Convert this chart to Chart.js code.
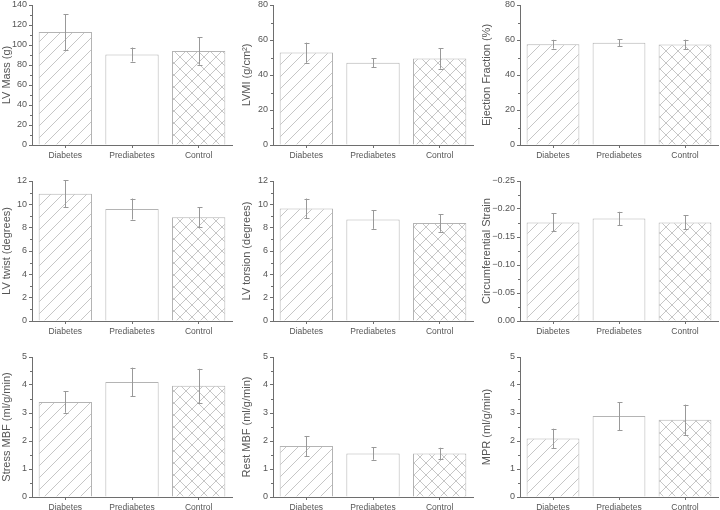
<!DOCTYPE html>
<html>
<head>
<meta charset="utf-8">
<script src="https://cdn.jsdelivr.net/npm/chart.js@4.4.1/dist/chart.umd.min.js"></script>
<style>
  html, body { margin: 0; padding: 0; background: #fff; width: 720px; height: 510px; overflow: hidden; position: relative; }
  canvas { position: absolute; }
</style>
</head>
<body>
<canvas id="c1" width="240" height="170"></canvas>
<canvas id="c2" width="240" height="170"></canvas>
<canvas id="c3" width="240" height="170"></canvas>
<canvas id="c4" width="240" height="170"></canvas>
<canvas id="c5" width="240" height="170"></canvas>
<canvas id="c6" width="240" height="170"></canvas>
<canvas id="c7" width="240" height="170"></canvas>
<canvas id="c8" width="240" height="170"></canvas>
<canvas id="c9" width="240" height="170"></canvas>
<script>
// data: group means and error half-widths
const categories = ['Diabetes', 'Prediabetes', 'Control'];

const lvMass = [113, 90.5, 94];
const lvMassErr = [18, 7, 13.5];
const lvmi = [52.8, 47, 49.4];
const lvmiErr = [5.7, 2.6, 5.8];
const ejectionFraction = [57.6, 58.4, 57.5];
const ejectionFractionErr = [2.5, 1.9, 2.7];

const lvTwist = [10.9, 9.6, 8.9];
const lvTwistErr = [1.15, 0.9, 0.85];
const lvTorsion = [9.65, 8.7, 8.4];
const lvTorsionErr = [0.85, 0.8, 0.75];
const circStrain = [-0.176, -0.183, -0.176];
const circStrainErr = [0.016, 0.012, 0.0125];

const stressMbf = [3.39, 4.11, 3.97];
const stressMbfErr = [0.38, 0.51, 0.61];
const restMbf = [1.82, 1.55, 1.55];
const restMbfErr = [0.36, 0.22, 0.21];
const mpr = [2.09, 2.89, 2.76];
const mprErr = [0.35, 0.5, 0.54];

const FONT = '"Liberation Sans", Arial, sans-serif';
const AXIS = '#6e6e6e';
const TEXT = '#555';
const HATCH = '#c6c6c6';

function makePattern(kind) {
  const size = 12;
  const c = document.createElement('canvas');
  c.width = size; c.height = size;
  const ctx = c.getContext('2d');
  ctx.fillStyle = '#fff';
  ctx.fillRect(0, 0, size, size);
  ctx.strokeStyle = HATCH;
  ctx.lineWidth = 1;
  ctx.beginPath();
  if (kind === 'diag' || kind === 'cross') {
    ctx.moveTo(-1, size + 1); ctx.lineTo(size + 1, -1);
    ctx.moveTo(-1, 1); ctx.lineTo(1, -1);
    ctx.moveTo(size - 1, size + 1); ctx.lineTo(size + 1, size - 1);
  }
  if (kind === 'cross') {
    ctx.moveTo(-1, -1); ctx.lineTo(size + 1, size + 1);
    ctx.moveTo(size - 1, -1); ctx.lineTo(size + 1, 1);
    ctx.moveTo(-1, size - 1); ctx.lineTo(1, size + 1);
  }
  ctx.stroke();
  return document.createElement('canvas').getContext('2d').createPattern(c, 'repeat');
}

const errBarPlugin = {
  id: 'errbars',
  afterDatasetsDraw(chart, args, opts) {
    const errs = opts.errs;
    if (!errs) return;
    const ctx = chart.ctx;
    const y = chart.scales.y;
    const meta = chart.getDatasetMeta(0);
    const vals = chart.data.datasets[0].data;
    ctx.save();
    ctx.strokeStyle = '#999';
    ctx.lineWidth = 1;
    meta.data.forEach((bar, i) => {
      const x = Math.round(bar.x) + 0.5;
      const top = y.getPixelForValue(vals[i] + (vals[i] < 0 ? -errs[i] : errs[i]));
      const bot = y.getPixelForValue(vals[i] - (vals[i] < 0 ? -errs[i] : errs[i]));
      ctx.beginPath();
      ctx.moveTo(x, top); ctx.lineTo(x, bot);
      ctx.moveTo(x - 2, Math.round(top) + 0.5); ctx.lineTo(x + 3, Math.round(top) + 0.5);
      ctx.moveTo(x - 2, Math.round(bot) + 0.5); ctx.lineTo(x + 3, Math.round(bot) + 0.5);
      ctx.stroke();
    });
    ctx.restore();
  }
};

const minorTickPlugin = {
  id: 'minorticks',
  afterDraw(chart) {
    const y = chart.scales.y;
    const ctx = chart.ctx;
    const ticks = y.ticks;
    ctx.save();
    ctx.strokeStyle = AXIS;
    ctx.lineWidth = 1;
    ctx.beginPath();
    for (let i = 0; i < ticks.length - 1; i++) {
      const mid = (ticks[i].value + ticks[i + 1].value) / 2;
      const py = Math.round(y.getPixelForValue(mid)) + 0.5;
      ctx.moveTo(y.right - 2, py); ctx.lineTo(y.right, py);
    }
    ctx.stroke();
    ctx.restore();
  }
};

const panels = [
  { id: 'c1', col: 0, row: 0, title: 'LV Mass (g)', data: lvMass, errs: lvMassErr, min: 0, max: 140, step: 20 },
  { id: 'c2', col: 1, row: 0, title: 'LVMI (g/cm\u00b2)', data: lvmi, errs: lvmiErr, min: 0, max: 80, step: 20 },
  { id: 'c3', col: 2, row: 0, title: 'Ejection Fraction (%)', data: ejectionFraction, errs: ejectionFractionErr, min: 0, max: 80, step: 20 },
  { id: 'c4', col: 0, row: 1, title: 'LV twist (degrees)', data: lvTwist, errs: lvTwistErr, min: 0, max: 12, step: 2 },
  { id: 'c5', col: 1, row: 1, title: 'LV torsion (degrees)', data: lvTorsion, errs: lvTorsionErr, min: 0, max: 12, step: 2 },
  { id: 'c6', col: 2, row: 1, title: 'Circumferential Strain', data: circStrain, errs: circStrainErr, min: -0.25, max: 0, step: 0.05, reverse: true },
  { id: 'c7', col: 0, row: 2, title: 'Stress MBF (ml/g/min)', data: stressMbf, errs: stressMbfErr, min: 0, max: 5, step: 1 },
  { id: 'c8', col: 1, row: 2, title: 'Rest MBF (ml/g/min)', data: restMbf, errs: restMbfErr, min: 0, max: 5, step: 1 },
  { id: 'c9', col: 2, row: 2, title: 'MPR (ml/g/min)', data: mpr, errs: mprErr, min: 0, max: 5, step: 1 }
];

const colLeft = [0, 240, 480];
const yAxisWidth = [32, 33, 40];
const rightPad = [8, 7, 2];
const chartTop = [5, 181, 357];
const TOP_PAD = 8;
const PLOT_H = 140;

const fills = [makePattern('diag'), '#fff', makePattern('cross')];

panels.forEach(p => {
  const canvas = document.getElementById(p.id);
  canvas.style.left = colLeft[p.col] + 'px';
  canvas.style.top = (chartTop[p.row] - TOP_PAD) + 'px';
  const fmt = p.reverse
    ? v => (Math.abs(v) < 1e-9 ? '0.00' : '\u2212' + Math.abs(v).toFixed(2))
    : v => String(Math.round(v * 100) / 100);

  new Chart(canvas, {
    type: 'bar',
    data: {
      labels: categories,
      datasets: [{
        data: p.data,
        backgroundColor: fills,
        borderColor: '#b4b4b4',
        borderWidth: 1,
        barPercentage: 0.8,
        categoryPercentage: 1
      }]
    },
    options: {
      responsive: false,
      animation: false,
      events: [],
      layout: { padding: { left: 0, top: TOP_PAD, right: rightPad[p.col], bottom: 0 } },
      plugins: {
        legend: { display: false },
        tooltip: { enabled: false },
        errbars: { errs: p.errs }
      },
      scales: {
        x: {
          afterFit: s => { s.height = 170 - TOP_PAD - PLOT_H; },
          grid: { drawOnChartArea: false, offset: false, tickLength: 3, color: AXIS },
          border: { color: AXIS },
          ticks: { color: TEXT, padding: 3, font: { family: FONT, size: 8.5 } }
        },
        y: {
          min: p.min,
          max: p.max,
          reverse: !!p.reverse,
          afterFit: s => { s.width = yAxisWidth[p.col]; },
          grid: { drawOnChartArea: false, tickLength: 3, color: AXIS },
          border: { color: AXIS },
          ticks: { stepSize: p.step, color: TEXT, padding: 2, font: { family: FONT, size: 9 }, callback: fmt },
          title: { display: true, text: p.title, color: TEXT, padding: 0, font: { family: FONT, size: 11 } }
        }
      }
    },
    plugins: [errBarPlugin, minorTickPlugin]
  });
});
</script>
</body>
</html>
